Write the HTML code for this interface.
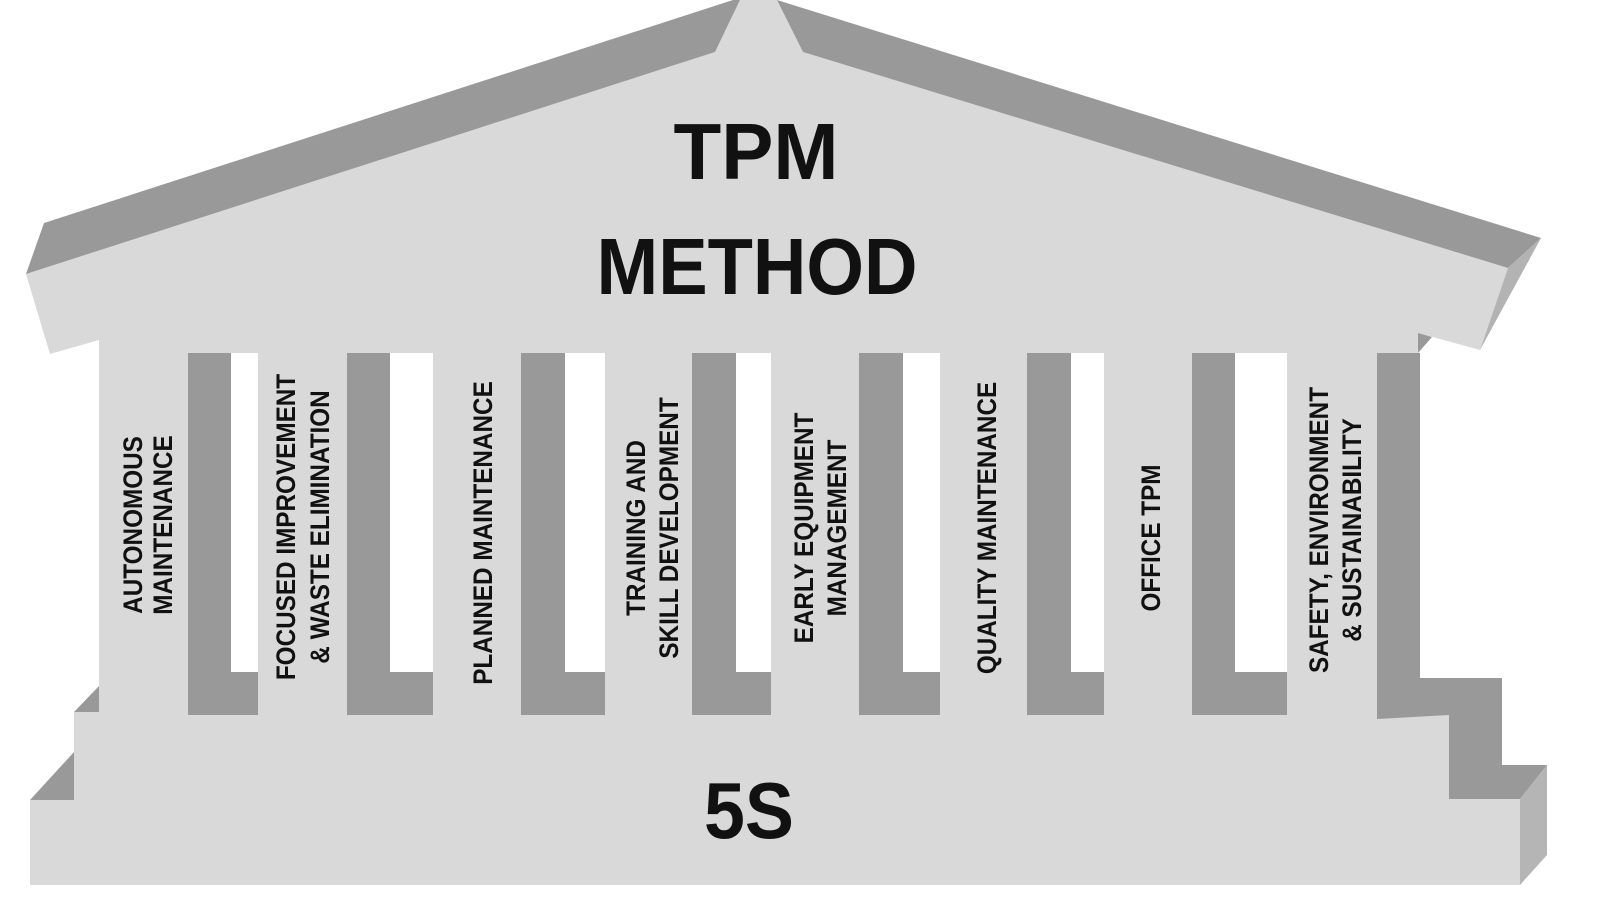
<!DOCTYPE html>
<html><head><meta charset="utf-8"><style>
html,body{margin:0;padding:0;background:#fff;}
svg{display:block;}
text{font-family:"Liberation Sans",Arial,sans-serif;font-weight:bold;fill:#111;}
</style></head><body>
<svg width="1600" height="900" viewBox="0 0 1600 900" xmlns="http://www.w3.org/2000/svg">
<!-- main light body -->
<polygon fill="#d9d9d9" points="26,274 715,52 740,0 777,0 803,52 1508,268 1480,350 1418,333 1420,690 1449,690 1449,799 1520,799 1520,885 30,885 30,800 74,800 74,712 99,712 99,340 50,354"/>
<!-- roof dark bands -->
<polygon fill="#999" points="44,223 733,0 740,0 715,52 26,274"/>
<polygon fill="#999" points="777,0 1541,238 1508,268 803,52"/>
<polygon fill="#b3b3b3" points="1541,238 1508,268 1480,350"/>
<polygon fill="#999" points="1418,333 1432,337 1418,353"/>
<!-- left step shadows -->
<polygon fill="#999" points="74,712 99,686 99,712"/>
<polygon fill="#999" points="30,800 74,752 74,800"/>
<!-- right shadow region -->
<polygon fill="#999" points="1377,353 1420,353 1420,678 1502,678 1502,765 1547,765 1520,799 1449,799 1449,715 1377,719"/>
<polygon fill="#b5b5b5" points="1520,799 1547,765 1547,855 1520,885"/>
<!-- gaps -->
<g fill="#999">
<rect x="188" y="353" width="70" height="362" fill="#fff"/><rect x="188" y="353" width="43" height="362"/><rect x="188" y="672" width="70" height="43"/>
<rect x="347" y="353" width="86" height="362" fill="#fff"/><rect x="347" y="353" width="43" height="362"/><rect x="347" y="672" width="86" height="43"/>
<rect x="521" y="353" width="84" height="362" fill="#fff"/><rect x="521" y="353" width="44" height="362"/><rect x="521" y="672" width="84" height="43"/>
<rect x="692" y="353" width="79" height="362" fill="#fff"/><rect x="692" y="353" width="44" height="362"/><rect x="692" y="672" width="79" height="43"/>
<rect x="859" y="353" width="81" height="362" fill="#fff"/><rect x="859" y="353" width="44" height="362"/><rect x="859" y="672" width="81" height="43"/>
<rect x="1027" y="353" width="77" height="362" fill="#fff"/><rect x="1027" y="353" width="44" height="362"/><rect x="1027" y="672" width="77" height="43"/>
<rect x="1192" y="353" width="95" height="362" fill="#fff"/><rect x="1192" y="353" width="43" height="362"/><rect x="1192" y="672" width="95" height="43"/>
</g>
<!-- titles -->
<text x="756" y="179" font-size="80" text-anchor="middle" textLength="165" lengthAdjust="spacingAndGlyphs">TPM</text>
<text x="757" y="294" font-size="80" text-anchor="middle" textLength="321" lengthAdjust="spacingAndGlyphs">METHOD</text>
<text x="749" y="838" font-size="80" text-anchor="middle" textLength="90" lengthAdjust="spacingAndGlyphs">5S</text>
<!-- vertical labels -->
<g font-size="27" text-anchor="middle">
<g transform="translate(142,525) rotate(-90) scale(0.9,1)"><text x="0" y="0">AUTONOMOUS</text><text x="0" y="30">MAINTENANCE</text></g>
<g transform="translate(295,527) rotate(-90) scale(0.9,1)"><text x="0" y="0">FOCUSED IMPROVEMENT</text><text x="0" y="34">&amp; WASTE ELIMINATION</text></g>
<g transform="translate(492,533) rotate(-90) scale(0.9,1)"><text x="0" y="0">PLANNED MAINTENANCE</text></g>
<g transform="translate(645,528) rotate(-90) scale(0.9,1)"><text x="0" y="0">TRAINING AND</text><text x="0" y="33">SKILL DEVELOPMENT</text></g>
<g transform="translate(813,528) rotate(-90) scale(0.9,1)"><text x="0" y="0">EARLY EQUIPMENT</text><text x="0" y="33">MANAGEMENT</text></g>
<g transform="translate(996,528) rotate(-90) scale(0.9,1)"><text x="0" y="0">QUALITY MAINTENANCE</text></g>
<g transform="translate(1160,538) rotate(-90) scale(0.9,1)"><text x="0" y="0">OFFICE TPM</text></g>
<g transform="translate(1328,530) rotate(-90) scale(0.9,1)"><text x="0" y="0">SAFETY, ENVIRONMENT</text><text x="0" y="33">&amp; SUSTAINABILITY</text></g>
</g>
</svg>
</body></html>
